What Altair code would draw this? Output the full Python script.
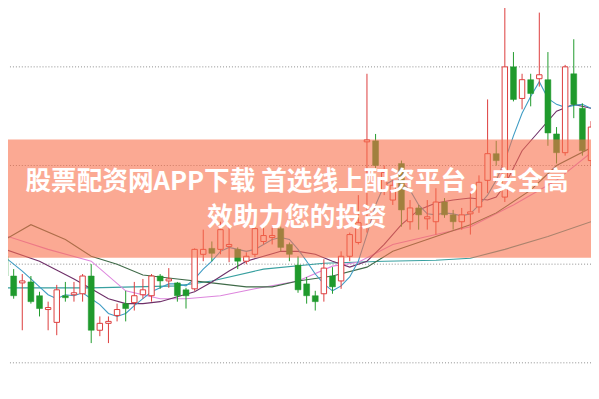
import altair as alt
import pandas as pd

# ---- candle data (index, open, close, high, low) ----
opens  = [20.8,18.8,18.1,18.2,16.8,15.4,14.1,16.8,16.9,17.0,18.8,13.3,14.0,14.8,16.0,16.1,16.9,16.8,18.8,18.3,
          18.1,17.4,17.5,21.0,21.6,21.5,21.8,21.5,20.3,21.0,22.3,22.7,23.6,22.0,19.9,18.0,16.8,17.0,18.8,18.3,
          20.8,22.2,32.4,32.5,27.5,26.5,30.2,24.3,25.7,24.6,24.3,26.3,25.0,24.3,25.1,25.8,28.5,31.2,26.8,40.0,
          36.8,38.7,38.8,38.7,33.2,31.3,39.3,35.8,30.5]
closes = [18.8,16.8,18.3,16.2,15.5,15.6,17.4,16.6,17.1,18.8,13.3,14.0,14.2,15.4,15.5,16.8,17.4,18.8,18.3,18.5,
          16.8,16.8,21.5,21.5,21.1,23.5,22.0,20.3,20.8,23.6,22.9,22.9,21.7,21.0,17.4,16.8,16.2,19.6,17.7,20.8,
          23.0,24.2,32.6,30.0,29.3,28.0,25.5,25.7,25.0,24.8,26.3,25.0,24.3,25.0,25.3,28.3,31.2,30.5,40.0,36.7,
          38.7,37.3,39.2,33.3,31.3,40.0,36.2,31.5,33.9]
highs  = [21.5,19.5,19.0,18.8,17.2,16.2,17.9,18.2,18.2,19.0,20.0,14.7,14.7,16.0,17.3,18.2,18.5,19.0,19.0,19.6,
          18.2,17.6,21.6,23.5,22.3,24.3,23.8,21.7,21.2,23.8,24.0,23.7,23.8,22.2,20.8,18.7,17.3,20.5,19.7,21.3,
          23.2,27.0,39.3,33.2,30.0,28.5,30.5,26.5,26.0,26.5,27.7,26.7,25.5,25.7,27.2,29.0,36.7,32.5,46.3,41.5,
          39.3,39.3,45.5,41.5,33.9,40.2,42.8,36.3,34.5]
lows   = [18.0,16.5,13.3,16.0,14.7,13.3,12.8,16.2,16.2,16.2,12.0,12.7,12.0,14.2,14.2,15.3,16.5,16.2,17.5,17.6,
          16.2,15.5,17.3,20.3,20.3,21.0,20.2,19.5,20.0,20.7,22.0,22.0,21.3,20.3,17.1,16.0,15.3,16.2,17.0,17.5,
          20.3,22.0,23.2,29.5,27.0,26.0,23.8,23.5,23.5,23.5,23.0,24.7,23.5,23.5,23.0,25.2,27.2,30.0,26.3,36.5,
          35.7,36.0,38.0,32.0,30.2,31.0,34.8,31.0,30.0]

# ---- moving-average lines (index, value) ----
ma5_idx = list(range(0, 69))
ma5_val = [20.7,20.0,19.3,18.5,17.7,16.9,16.5,16.9,16.8,17.1,16.5,15.9,15.0,14.7,15.0,15.8,16.5,17.2,17.6,18.0,
           18.0,17.8,18.5,19.5,20.3,21.3,21.7,21.5,21.3,21.5,22.0,22.5,22.7,22.5,21.5,20.3,19.0,18.0,17.3,17.8,
           18.7,20.3,23.0,26.0,28.0,28.5,28.3,27.5,26.0,25.1,25.0,25.2,25.1,24.9,25.1,26.0,27.0,28.5,30.5,33.0,
           35.3,37.0,38.5,36.8,36.2,35.9,36.1,36.2,35.8]
ma10_idx = [0,4,8,10,12,14,16,18,20,22,24,26,28,30,32,34,36,38,40,42,44,46,48,50,52,54,56,57,58,60,62,64,66,68]
ma10_val = [21.5,20.3,18.5,17.5,16.5,16.0,16.0,16.2,16.7,17.2,18.2,19.3,20.3,20.8,21.3,21.3,21.0,20.3,19.7,20.3,
            22.0,24.0,25.5,26.2,26.5,26.7,26.5,26.8,28.0,31.5,33.5,35.5,36.2,35.8]
ma20_idx = [0,3,7,10,13,16,20,24,28,31,34,38,42,45,50,54,57,61,64,68]
ma20_val = [22.5,24.0,22.5,20.8,20.0,18.9,18.5,18.1,17.7,17.7,18.3,18.8,19.7,21.3,22.8,24.0,25.2,27.5,30.0,31.8]
ma30_idx = [0,5,10,14,18,21,25,29,34,38,41,45,50,54,59,64,68]
ma30_val = [22.9,21.5,20.3,17.3,16.5,16.5,16.8,17.5,18.3,19.8,20.2,22.0,23.0,23.8,26.0,28.5,31.3]
ma60_idx = [0,10,20,24,30,37,44,50,54,58,63,68]
ma60_val = [17.6,17.6,17.8,18.3,19.5,20.1,20.3,20.4,20.6,21.5,22.8,24.3]

grid_vals = [40, 30, 20, 10]
banner_line1 = "股票配资网APP下载 首选线上配资平台，安全高"
banner_line2 = "效助力您的投资"

RED = "#dc3b3b"
GREEN = "#1f9a2c"

df = pd.DataFrame({"i": list(range(len(opens))), "open": opens, "close": closes,
                   "high": highs, "low": lows})
df["up"] = df["close"] >= df["open"]

xs = alt.Scale(domain=[0.343, 68.0], nice=False, zero=False, padding=0)
ys = alt.Scale(domain=[6.6, 45.7], nice=False, zero=False, padding=0)
X = alt.X("i:Q", scale=xs, axis=None)

grid = alt.Chart(pd.DataFrame({"g": grid_vals})).mark_rule(
    color="#8c8c8c", strokeDash=[1, 2], strokeWidth=1).encode(
    y=alt.Y("g:Q", scale=ys, axis=None))

def line(idx, val, color):
    return alt.Chart(pd.DataFrame({"i": idx, "v": val})).mark_line(
        color=color, strokeWidth=1.1).encode(X, y=alt.Y("v:Q", scale=ys, axis=None))

lines = [
    line(ma60_idx, ma60_val, "#39a0a0"),
    line(ma30_idx, ma30_val, "#dd86dd"),
    line(ma20_idx, ma20_val, "#3f6a48"),
    line(ma10_idx, ma10_val, "#6e2f68"),
    line(ma5_idx, ma5_val, "#3f9cc4"),
]

base = alt.Chart(df)
wick_up = base.transform_filter("datum.up").mark_rule(color=RED, strokeWidth=1).encode(
    X, y=alt.Y("low:Q", scale=ys, axis=None), y2="high:Q")
wick_dn = base.transform_filter("!datum.up").mark_rule(color=GREEN, strokeWidth=1).encode(
    X, y=alt.Y("low:Q", scale=ys, axis=None), y2="high:Q")
body_up = base.transform_filter("datum.up").mark_bar(
    width=5.5, fill="white", stroke=RED, strokeWidth=1).encode(
    X, y=alt.Y("open:Q", scale=ys, axis=None), y2="close:Q")
body_dn = base.transform_filter("!datum.up").mark_bar(
    width=6, fill=GREEN, stroke=GREEN, strokeWidth=0.5).encode(
    X, y=alt.Y("open:Q", scale=ys, axis=None), y2="close:Q")

banner = alt.Chart(pd.DataFrame({"a": [0]})).mark_rect(
    color="#f86f4b", opacity=0.6).encode(
    x=alt.value(0), x2=alt.value(591), y=alt.value(130.5), y2=alt.value(250.5))

def text_line(s, ypix):
    return alt.Chart(pd.DataFrame({"t": [s]})).mark_text(
        font="Noto Sans CJK SC", fontSize=26, fontWeight="bold", color="white",
        align="center", baseline="middle").encode(
        text="t:N", x=alt.value(293), y=alt.value(ypix))

chart = alt.layer(grid, *lines, wick_up, wick_dn, body_up, body_dn, banner,
                  text_line(banner_line1, 174), text_line(banner_line2, 210)).properties(
    width=591, height=391, padding=0,
    autosize=alt.AutoSizeParams(type="none")
).configure_view(stroke=None)

chart.save("out.html", embed_options={"renderer": "svg", "actions": False})
